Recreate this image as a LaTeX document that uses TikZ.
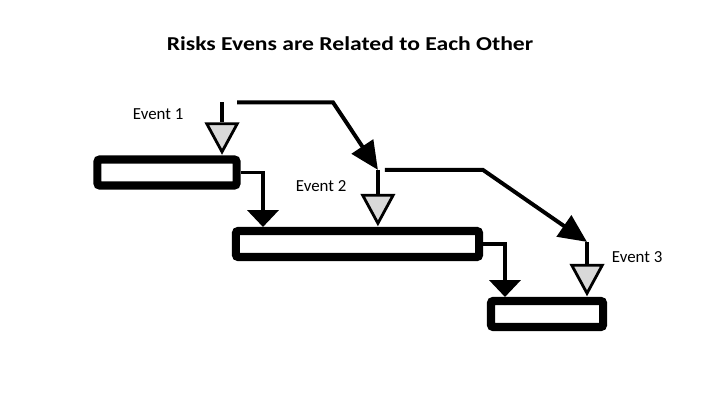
\documentclass[tikz,border=0pt]{standalone}
\usepackage{fontspec}
\setmainfont{Carlito}
\newfontfamily\titlefont{Carlito}[FakeStretch=1.2]
\usetikzlibrary{arrows.meta, shapes.geometric, positioning}

\begin{document}
\begin{tikzpicture}[x=0.025cm, y=-0.025cm,
  every node/.style={font=\fontsize{12pt}{14pt}\selectfont},
  taskbar/.style={draw, line width=5.7pt, rounded corners=1.5pt, fill=white, minimum height=0.65cm, inner sep=0pt},
  eventmark/.style={draw, line width=2pt, fill=gray!30, isosceles triangle, isosceles triangle stretches, shape border rotate=270, minimum width=0.76cm, minimum height=0.7cm, inner sep=0pt},
  stem/.style={line width=2.8pt},
  link/.style={line width=2.8pt, -{Triangle[length=20pt, width=18pt]}},
  drop/.style={line width=2.8pt, -{Triangle[length=12pt, width=22pt]}}]
  \useasboundingbox (0,0) rectangle (720,405);

  % Title
  \node[font=\titlefont\bfseries\fontsize{14pt}{16pt}\selectfont, anchor=base] (title) at (350,51) {Risks Evens are Related to Each Other};

  % Task bars
  \node[taskbar, minimum width=3.475cm] (box1) at (167,172.5) {};
  \node[taskbar, minimum width=6.075cm] (box2) at (357.5,244) {};
  \node[taskbar, minimum width=2.8cm] (box3) at (547,314) {};

  % Event markers on top of the bars
  \node[eventmark, anchor=apex] (ev1) at ([xshift=1.375cm]box1.north) {};
  \node[eventmark, anchor=apex] (ev2) at ([xshift=0.51cm]box2.north) {};
  \node[eventmark, anchor=apex] (ev3) at ([xshift=1.0cm]box3.north) {};
  \coordinate (s1) at ([yshift=0.5cm]ev1.lower side);
  \coordinate (s2) at ([yshift=0.6cm]ev2.lower side);
  \coordinate (s3) at ([yshift=0.55cm]ev3.lower side);

  % Event labels
  \node[anchor=base west] (lbl1) at (128,120) {Event 1};
  \node[anchor=base west] (lbl2) at (291,192) {Event 2};
  \node[anchor=base west] (lbl3) at (607,262) {Event 3};

  % Stems
  \draw[stem] (s1) -- (ev1.lower side);
  \draw[stem] (s2) -- (ev2.lower side);
  \draw[stem] (s3) -- (ev3.lower side);

  % Event 1 -> Event 2 -> Event 3
  \draw[link] ([xshift=0.375cm]s1) -- ++(96,0) -- (s2);
  \draw[link] ([xshift=0.175cm]s2) -- ++(98,0) -- (s3);

  % Bar to bar
  \draw[drop] (box1.east) -| ([xshift=0.775cm]box2.north west);
  \draw[drop] (box2.east) -| ([xshift=0.45cm]box3.north west);
\end{tikzpicture}
\end{document}
